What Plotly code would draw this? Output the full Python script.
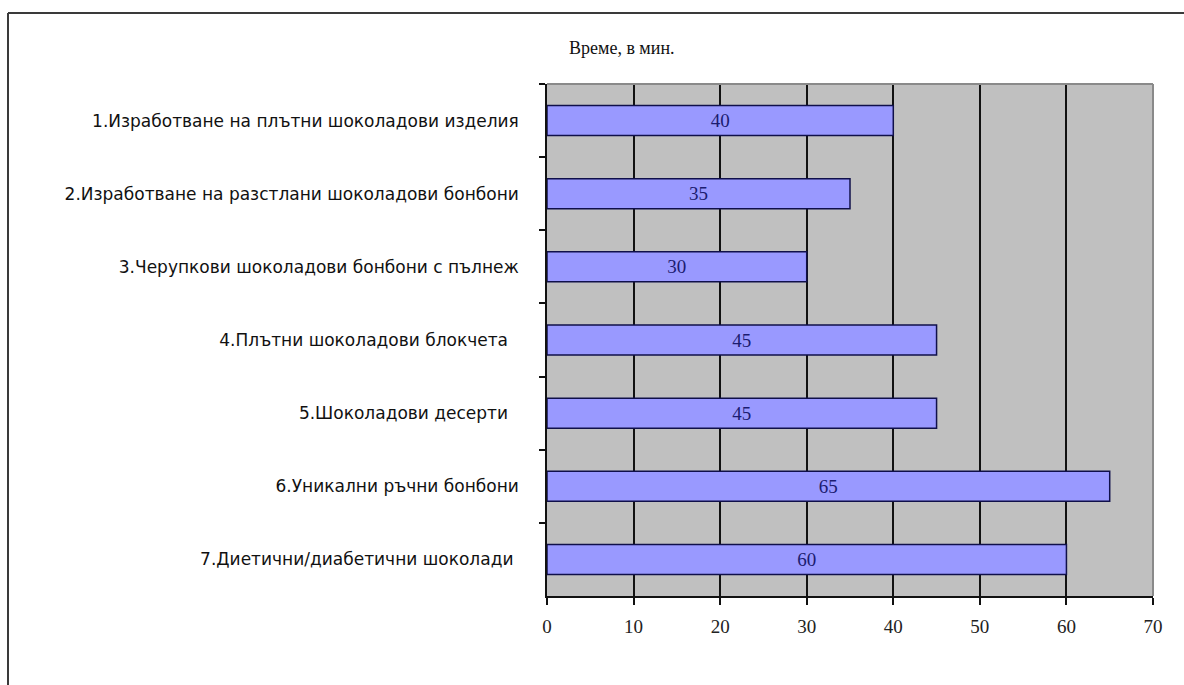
import plotly.graph_objects as go

# Production time per chocolate product line, minutes
categories = [
    "1.Изработване на плътни шоколадови изделия",
    "2.Изработване на разстлани шоколадови бонбони",
    "3.Черупкови шоколадови бонбони с пълнеж",
    "4.Плътни шоколадови блокчета\u00a0\u00a0",
    "5.Шоколадови десерти\u00a0\u00a0",
    "6.Уникални ръчни бонбони",
    "7.Диетични/диабетични шоколади\u00a0",
]
minutes = [40, 35, 30, 45, 45, 65, 60]
x_ticks = [0, 10, 20, 30, 40, 50, 60, 70]
title_text = "Време, в мин."

W, H = 1184, 685
L, R, T, B = 547, 31, 84, 89
pw, ph = W - L - R, H - T - B


def px_x(x):
    return (x - L) / pw


def px_y(y):
    return (H - B - y) / ph


fig = go.Figure(
    go.Bar(
        x=minutes,
        y=categories,
        orientation="h",
        width=0.41,
        marker=dict(color="#9999ff", line=dict(color="#10104a", width=1.5)),
        text=[str(v) for v in minutes],
        textposition="inside",
        insidetextanchor="middle",
        textangle=0,
        textfont=dict(family="Liberation Serif", size=19, color="#1c1c70"),
        hoverinfo="skip",
    )
)

fig.update_layout(
    width=W,
    height=H,
    margin=dict(l=L, r=R, t=T, b=B, pad=0),
    paper_bgcolor="white",
    plot_bgcolor="#c0c0c0",
    showlegend=False,
    xaxis=dict(
        range=[0, 70],
        tickvals=x_ticks,
        ticktext=[str(v) for v in x_ticks],
        showgrid=True,
        gridcolor="#111111",
        gridwidth=1.5,
        zeroline=False,
        showline=True,
        linecolor="#111111",
        linewidth=1.5,
        ticks="outside",
        ticklen=7,
        tickwidth=1.5,
        tickcolor="#111111",
        ticklabelstandoff=5,
        tickfont=dict(family="Liberation Serif", size=19, color="#222222"),
        fixedrange=True,
    ),
    yaxis=dict(
        type="category",
        autorange="reversed",
        tickson="boundaries",
        showgrid=False,
        zeroline=False,
        showline=True,
        linecolor="#111111",
        linewidth=1.5,
        ticks="outside",
        ticklen=6,
        tickwidth=1.5,
        tickcolor="#111111",
        ticklabelstandoff=23,
        tickfont=dict(family="DejaVu Sans", size=17, color="#111111"),
        fixedrange=True,
    ),
    annotations=[
        dict(
            text=title_text,
            xref="paper",
            yref="paper",
            x=px_x(567),
            y=px_y(48),
            xanchor="left",
            yanchor="middle",
            showarrow=False,
            font=dict(family="Liberation Serif", size=18, color="#111111"),
        )
    ],
    shapes=[
        # plot area frame on the top and right
        dict(type="line", xref="paper", yref="paper", x0=0, x1=1, y0=1, y1=1,
             line=dict(color="#8a8a8a", width=2)),
        dict(type="line", xref="paper", yref="paper", x0=1, x1=1, y0=0, y1=1,
             line=dict(color="#8a8a8a", width=2)),
        # chart border
        dict(type="line", xref="paper", yref="paper",
             x0=px_x(8), x1=px_x(8), y0=px_y(13), y1=px_y(H + 10),
             line=dict(color="#3a3a3a", width=2)),
        dict(type="line", xref="paper", yref="paper",
             x0=px_x(8), x1=px_x(W + 10), y0=px_y(13), y1=px_y(13),
             line=dict(color="#3a3a3a", width=2)),
    ],
)

fig.write_html("out.html")
